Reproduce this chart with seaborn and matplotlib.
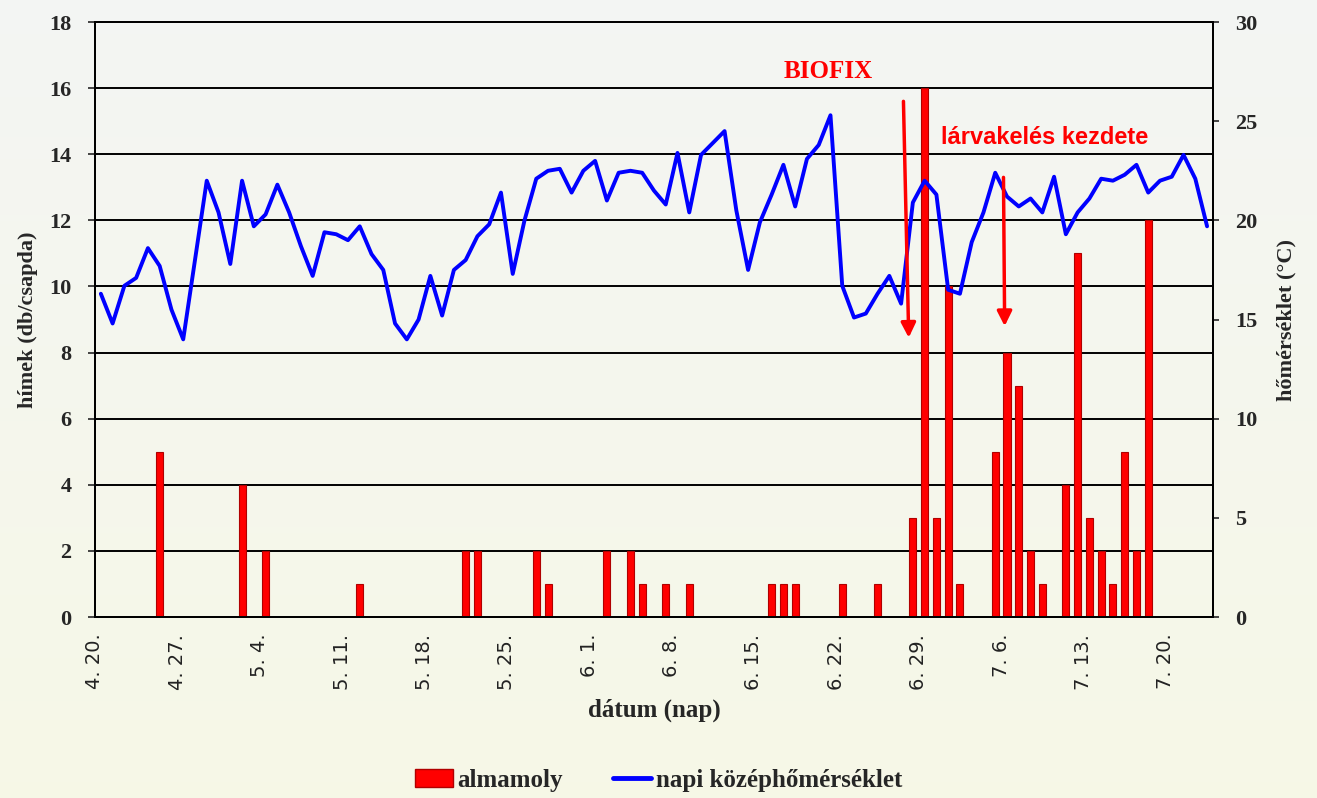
import numpy as np
import pandas as pd
import matplotlib.pyplot as plt
import seaborn as sns
from matplotlib.patches import Patch
from matplotlib.lines import Line2D

sns.set_style("white")
plt.rcParams['font.family'] = ['Liberation Serif', 'DejaVu Serif']

# ---- data ----
start_date = "2013-04-20"

# daily mean temperature (°C), 4.20 -> 7.23
temp = [16.3, 14.8, 16.7, 17.1, 18.6, 17.7, 15.5, 14.0, 18.0, 22.0,
        20.4, 17.8, 22.0, 19.7, 20.3, 21.8, 20.4, 18.7, 17.2, 19.4,
        19.3, 19.0, 19.7, 18.3, 17.5, 14.8, 14.0, 15.0, 17.2, 15.2,
        17.5, 18.0, 19.2, 19.8, 21.4, 17.3, 20.0, 22.1, 22.5, 22.6,
        21.4, 22.5, 23.0, 21.0, 22.4, 22.5, 22.4, 21.5, 20.8, 23.4,
        20.4, 23.3, 23.9, 24.5, 20.5, 17.5, 19.9, 21.3, 22.8, 20.7,
        23.1, 23.8, 25.3, 16.7, 15.1, 15.3, 16.3, 17.2, 15.8, 20.9,
        22.0, 21.3, 16.5, 16.3, 18.9, 20.4, 22.4, 21.2, 20.7, 21.1,
        20.4, 22.2, 19.3, 20.4, 21.1, 22.1, 22.0, 22.3, 22.8, 21.4,
        22.0, 22.2, 23.3, 22.1, 19.7]

# codling moth (almamoly) males per trap
catch_dates = ["04-25", "05-02", "05-04", "05-12", "05-21", "05-22", "05-27",
               "05-28", "06-02", "06-04", "06-05", "06-07", "06-09", "06-16",
               "06-17", "06-18", "06-22", "06-25", "06-28", "06-29", "06-30",
               "07-01", "07-02", "07-05", "07-06", "07-07", "07-08", "07-09",
               "07-11", "07-12", "07-13", "07-14", "07-15", "07-16", "07-17",
               "07-18"]
catch_count = [5, 4, 2, 1, 2, 2, 2, 1, 2, 2, 1, 1, 1, 1, 1, 1, 1, 1, 3, 16, 3,
               10, 1, 5, 8, 7, 2, 1, 4, 11, 3, 2, 1, 5, 2, 12]

# annotations (day index, left-axis value)
biofix_text = (61.8, 16.5)
biofix_arrow = ((68.2, 15.6), (68.65, 8.45))
larva_text = (80.2, 14.5)
larva_arrow = ((76.7, 13.3), (76.8, 8.8))

# ---- prepare ----
t0 = pd.Timestamp(start_date)
days = pd.date_range(t0, periods=len(temp))
temp_df = pd.DataFrame({"day": np.arange(len(temp)), "temp": temp})
catch_df = pd.DataFrame({
    "day": [(pd.Timestamp("2013-" + d) - t0).days for d in catch_dates],
    "count": catch_count,
})

tick_pos = np.arange(0, len(temp), 7) - 0.5
tick_lab = [f"{d.month}. {d.day}." for d in days[::7]]

# ---- figure ----
fig, ax = plt.subplots(figsize=(13.17, 7.98), dpi=100)
fig.subplots_adjust(left=0.0721, right=0.921, top=0.9724, bottom=0.2268)

# soft background gradient
bg = fig.add_axes([0, 0, 1, 1], zorder=-10)
top_c = np.array([0.955, 0.962, 0.955])
bot_c = np.array([0.966, 0.972, 0.905])
grad = np.linspace(0, 1, 256)[:, None, None] * (bot_c - top_c) + top_c
bg.imshow(grad, aspect="auto", extent=[0, 1, 0, 1])
bg.axis("off")
ax.set_facecolor("none")

sns.barplot(data=catch_df, x="day", y="count", native_scale=True, width=0.6,
            color="#FF0000", saturation=1, edgecolor="#B00000", linewidth=0.8,
            errorbar=None, ax=ax, zorder=3)

ax.set_xlim(-0.5, len(temp) - 0.5)
ax.set_ylim(0, 18)
ax.set_yticks(np.arange(0, 19, 2))
ax.set_xticks(tick_pos)
ax.set_xticklabels(tick_lab, rotation=90, family="DejaVu Sans", fontsize=14,
                   color="#222222")
ax.yaxis.grid(True, color="black", lw=1.4)
ax.set_axisbelow(True)
ax.tick_params(axis="y", direction="out", length=5, width=1.2,
               labelsize=16, pad=12)
ax.tick_params(axis="x", direction="out", length=6, width=1.2, pad=6)
for lab in ax.get_yticklabels():
    lab.set_fontweight("bold")
for s in ax.spines.values():
    s.set_color("black")
    s.set_linewidth(1.4)

ax.set_xlabel("dátum (nap)", fontweight="bold", fontsize=18, labelpad=6)
ax.set_ylabel("hímek (db/csapda)", fontweight="bold", fontsize=16, labelpad=8)

ax2 = ax.twinx()
ax2.set_facecolor("none")
sns.lineplot(data=temp_df, x="day", y="temp", color="#0000FF", lw=2.8, ax=ax2)
ax2.set_ylim(0, 30)
ax2.set_yticks(np.arange(0, 31, 5))
ax2.set_xlim(-0.5, len(temp) - 0.5)
ax2.tick_params(axis="y", direction="out", length=4, width=1.2,
                labelsize=16, pad=12)
for lab in ax2.get_yticklabels():
    lab.set_fontweight("bold")
ax2.set_ylabel("hőmérséklet (°C)", fontweight="bold", fontsize=16,
               labelpad=14)
ax2.set_xlabel("")
for s in ax2.spines.values():
    s.set_color("black")
    s.set_linewidth(1.4)

# annotations
ax2.text(*biofix_text, "BIOFIX", transform=ax.transData, color="red",
         fontweight="bold", fontsize=18, ha="center", va="center")
ax2.text(*larva_text, "lárvakelés kezdete", transform=ax.transData,
         color="red", fontweight="bold", fontsize=17, ha="center",
         va="center", family="Liberation Sans")
for a_from, a_to in [biofix_arrow, larva_arrow]:
    ax2.annotate("", xy=a_to, xytext=a_from, xycoords=ax.transData,
                 textcoords=ax.transData,
                 arrowprops=dict(arrowstyle="-|>", color="red", lw=2.5,
                                 mutation_scale=22, shrinkA=0, shrinkB=0))

handles = [Patch(facecolor="#FF0000", edgecolor="#B00000"),
           Line2D([0], [0], color="#0000FF", lw=3.5)]
fig.legend(handles, ["almamoly", "napi középhőmérséklet"], loc="center",
           bbox_to_anchor=(0.5, 0.022), ncol=2, frameon=False,
           prop=dict(weight="bold", size=18), handlelength=1.5,
           handletextpad=0.2, columnspacing=2.0)

fig.savefig("out.png", dpi=100)
